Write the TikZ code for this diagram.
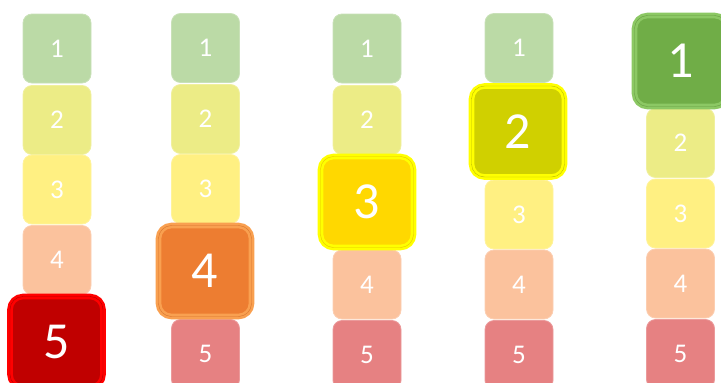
\documentclass[tikz,border=0pt]{standalone}
\usepackage{fontspec}
\setmainfont{Carlito}
\definecolor{sA}{HTML}{BBDAA6}
\definecolor{sB}{HTML}{ECEC86}
\definecolor{sC}{HTML}{FFF082}
\definecolor{sD}{HTML}{FBC29D}
\definecolor{sE}{HTML}{E68182}
\definecolor{bA}{HTML}{70AD47}
\definecolor{bB}{HTML}{D0D000}
\definecolor{bC}{HTML}{FFD800}
\definecolor{bD}{HTML}{ED7D31}
\definecolor{bE}{HTML}{C00000}
\definecolor{oA}{HTML}{8CC864}
\definecolor{oB}{HTML}{FFFF00}
\definecolor{oC}{HTML}{FFFF00}
\definecolor{oD}{HTML}{F9A050}
\definecolor{oE}{HTML}{FF0000}
\tikzset{
  smallbox/.style={rectangle, rounded corners=9pt, minimum width=68pt, minimum height=69pt,
    inner sep=0pt, text=white, font=\fontsize{27}{27}\selectfont, draw=#1!80!white, line width=0.8pt, fill=#1},
  bigbox/.style 2 args={rectangle, rounded corners=13pt, minimum width=93pt, minimum height=91pt,
    inner sep=0pt, text=white, font=\fontsize{52}{52}\selectfont, fill=#1, draw=#2, line width=2.6pt,
    double=#1!90!black, double distance=0.4pt},
}
\begin{document}
\begin{tikzpicture}[x=1pt,y=-1pt]
\useasboundingbox (0,0) rectangle (721,383);
% column 1
\node[smallbox=sA] (c1a) at (57,48.5) {1};
\node[smallbox=sB] (c1b) at (57,120) {2};
\node[smallbox=sC] (c1c) at (57,189.5) {3};
\node[smallbox=sD] (c1d) at (57,260) {4};
\node[bigbox={bE}{oE}] (c1e) at (56.5,342) {5};
% column 2
\node[smallbox=sA] (c2a) at (205.5,48) {1};
\node[smallbox=sB] (c2b) at (205.5,119) {2};
\node[smallbox=sC] (c2c) at (205.5,189) {3};
\node[smallbox=sE] (c2e) at (205.5,354) {5};
\node[bigbox={bD}{oD}] (c2d) at (205,271) {4};
% column 3
\node[smallbox=sA] (c3a) at (367,48.5) {1};
\node[smallbox=sB] (c3b) at (367,120) {2};
\node[smallbox=sD] (c3d) at (367,284.5) {4};
\node[smallbox=sE] (c3e) at (367,355) {5};
\node[bigbox={bC}{oC}] (c3c) at (367,202) {3};
% column 4
\node[smallbox=sA] (c4a) at (519,48) {1};
\node[smallbox=sC] (c4c) at (519,214.5) {3};
\node[smallbox=sD] (c4d) at (519,284.5) {4};
\node[smallbox=sE] (c4e) at (519,355) {5};
\node[bigbox={bB}{oB}] (c4b) at (518,131.5) {2};
% column 5
\node[smallbox=sB] (c5b) at (680.5,143) {2};
\node[smallbox=sC] (c5c) at (680.5,213.5) {3};
\node[smallbox=sD] (c5d) at (680.5,283.5) {4};
\node[smallbox=sE] (c5e) at (680.5,354) {5};
\node[bigbox={bA}{oA}] (c5a) at (681,61) {1};
\end{tikzpicture}
\end{document}
